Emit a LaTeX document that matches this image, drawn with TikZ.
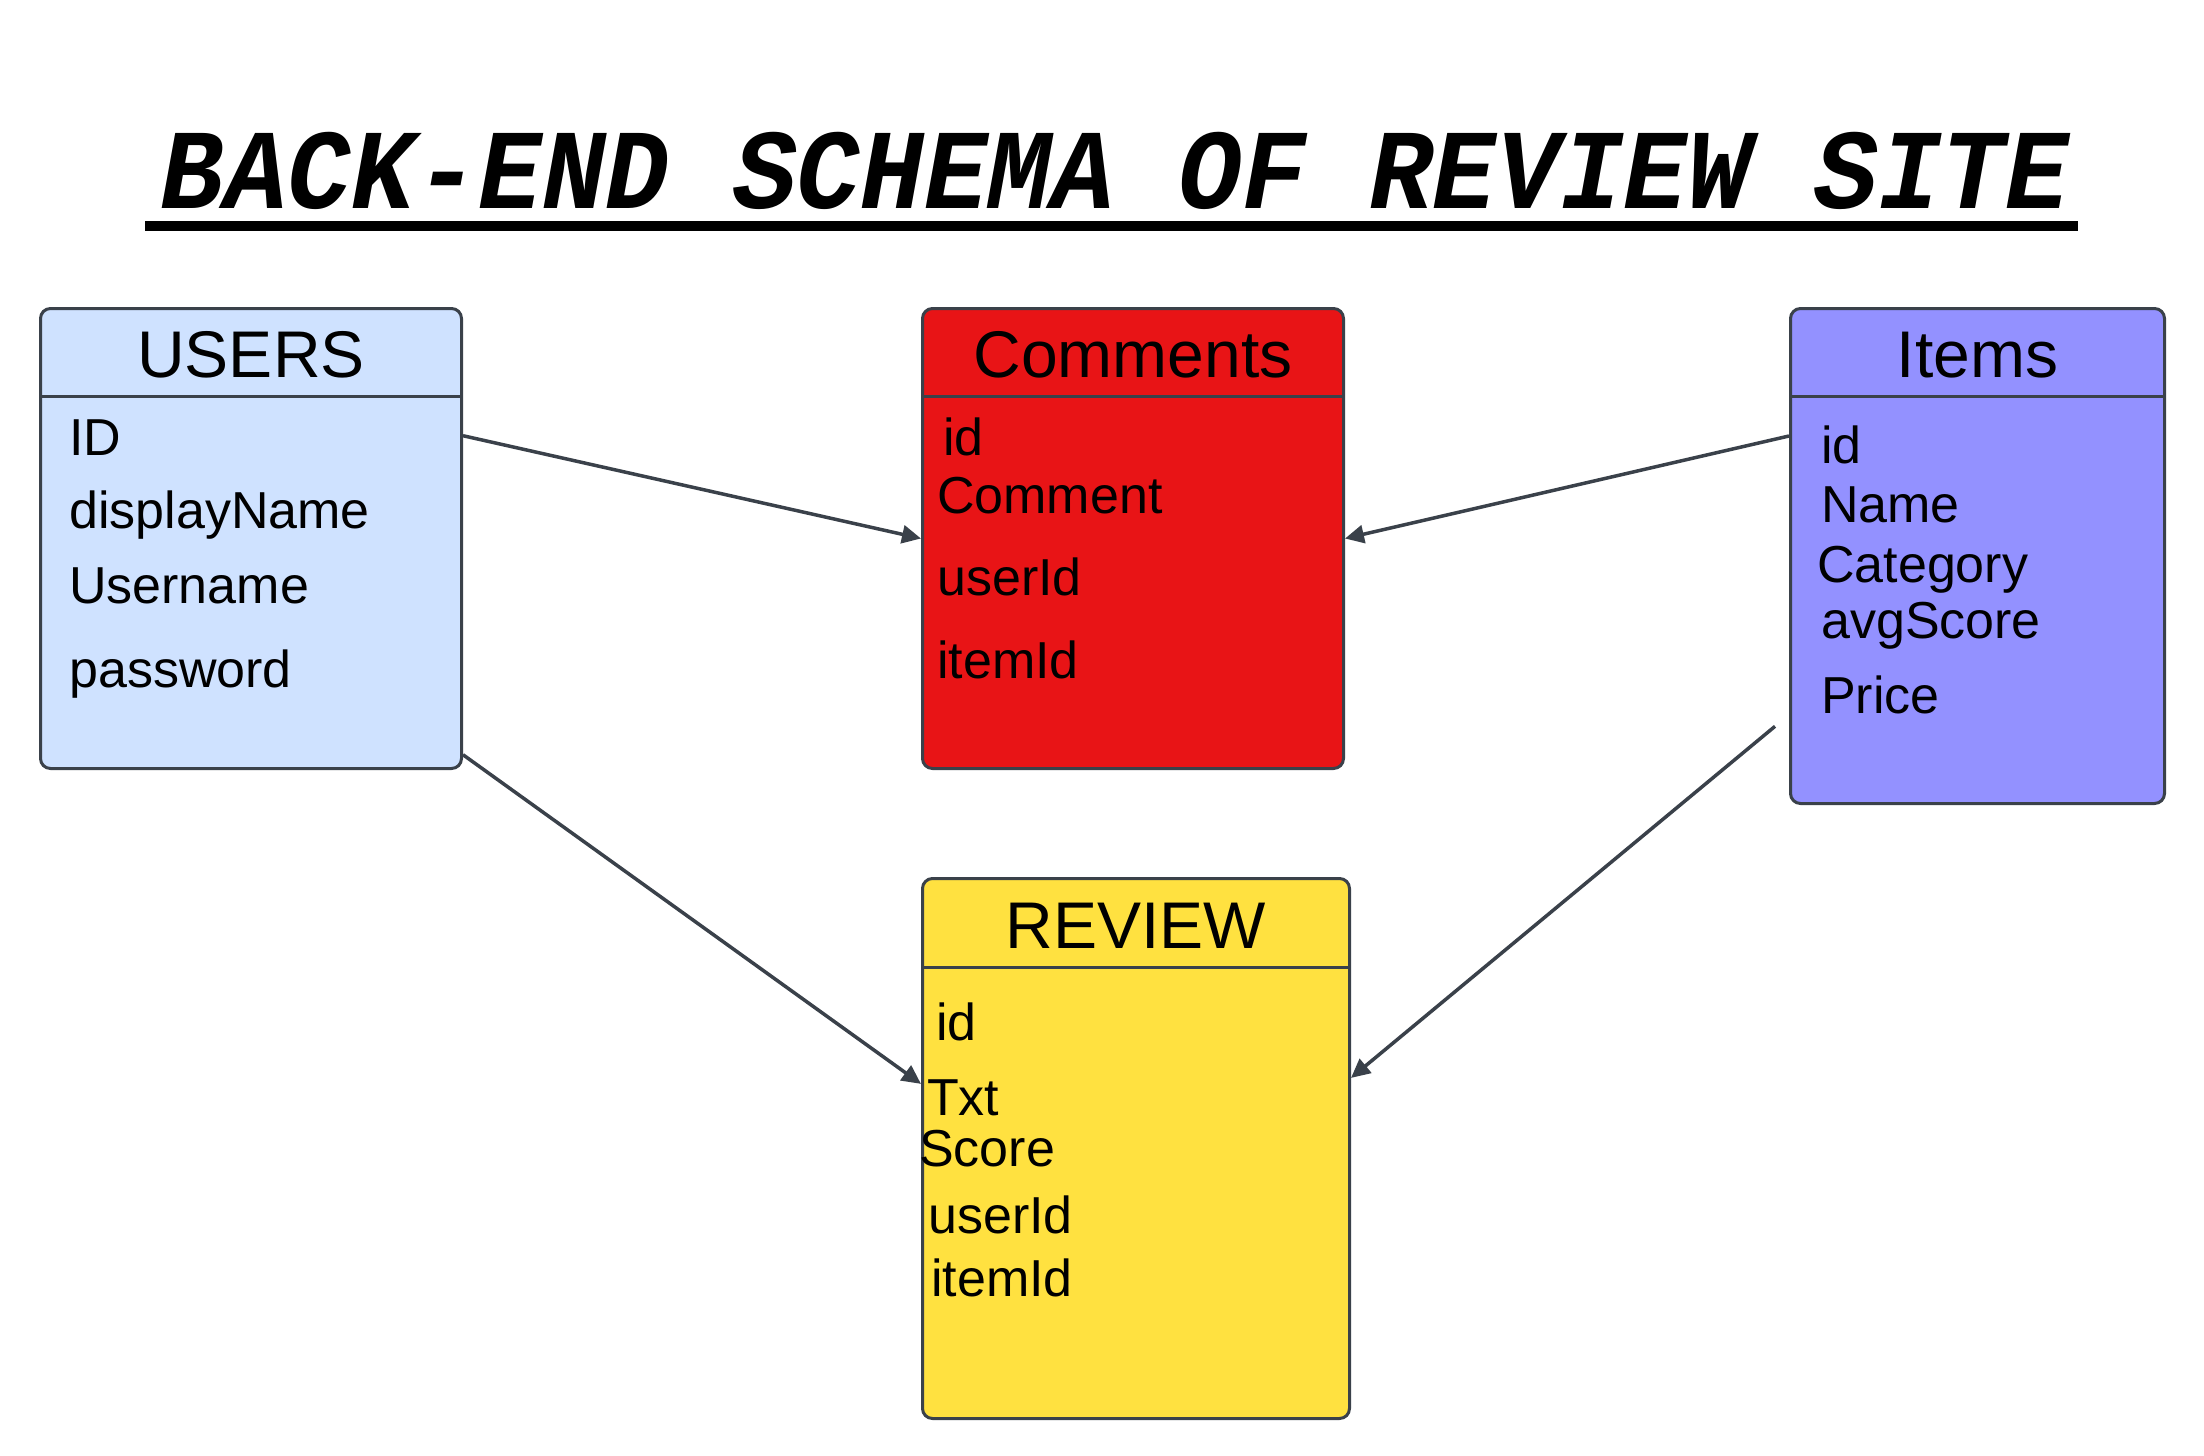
\documentclass[tikz,border=0pt]{standalone}
\usepackage{fontspec}
\setmainfont{Liberation Sans}
\newfontfamily\titlefont{Liberation Mono}[FakeStretch=0.93]
\usepackage{tikz}
\usetikzlibrary{arrows.meta, positioning, calc, shapes}
\definecolor{UsersBlue}{RGB}{207,226,255}
\definecolor{CommentRed}{RGB}{232,20,22}
\definecolor{ItemViolet}{RGB}{147,145,255}
\definecolor{ReviewYellow}{RGB}{255,225,64}
\definecolor{EdgeGray}{RGB}{58,65,74}
\tikzset{
  tbl/.style={draw=EdgeGray, line width=3pt, rounded corners=10pt, anchor=north west, inner sep=0pt},
  tblhead/.style={anchor=base, inner sep=0pt, font=\fontsize{66}{70}\selectfont},
  fld/.style={anchor=base west, inner sep=0pt, font=\fontsize{52}{60}\selectfont},
  sep/.style={draw=EdgeGray, line width=3pt},
  link/.style={draw=EdgeGray, line width=3.5pt, -{Triangle[length=19pt,width=18pt]}}
}

\begin{document}
\begin{tikzpicture}[x=1pt, y=-1pt]
\useasboundingbox (0,0) rectangle (2204,1456);
% title
\node[anchor=base, inner sep=0pt, font=\titlefont\bfseries\itshape\fontsize{114}{120}\selectfont] (title) at (1115,208) {BACK-END SCHEMA OF REVIEW SITE};
\draw[line width=10pt] ([xshift=-15pt,yshift=-18pt]title.base west) -- ([xshift=8pt,yshift=-18pt]title.base east);

% tables
\node[tbl, fill=UsersBlue, minimum width=421pt, minimum height=460pt] (users) at (39,307) {};
\node[tbl, fill=CommentRed, minimum width=421pt, minimum height=460pt] (comments) at (921,307) {};
\node[tbl, fill=ItemViolet, minimum width=374pt, minimum height=495pt] (items) at (1789,307) {};
\node[tbl, fill=ReviewYellow, minimum width=427pt, minimum height=540pt] (review) at (921,877) {};

% headers
\node[tblhead] (usersT) at ([yshift=-70pt]users.north) {USERS};
\node[tblhead] (commentsT) at ([yshift=-70pt]comments.north) {Comments};
\node[tblhead] (itemsT) at ([yshift=-70pt]items.north) {Items};
\node[tblhead] (reviewT) at ([yshift=-71pt]review.north) {REVIEW};
\draw[sep] ([yshift=-89pt]users.north west) -- ([yshift=-89pt]users.north east);
\draw[sep] ([yshift=-89pt]comments.north west) -- ([yshift=-89pt]comments.north east);
\draw[sep] ([yshift=-89pt]items.north west) -- ([yshift=-89pt]items.north east);
\draw[sep] ([yshift=-90pt]review.north west) -- ([yshift=-90pt]review.north east);

% fields
\node[fld] (uID) at (69,455) {ID};
\node[fld] (uDisp) at (69,528) {displayName};
\node[fld] (uName) at (69,603) {Username};
\node[fld] (uPass) at (69,687) {password};

\node[fld] (cId) at (943,455) {id};
\node[fld] (cText) at (937,513) {Comment};
\node[fld] (cUser) at (937,595) {userId};
\node[fld] (cItem) at (937,678) {itemId};

\node[fld] (iId) at (1821,463) {id};
\node[fld] (iName) at (1821,522) {Name};
\node[fld] (iCat) at (1817,582) {Category};
\node[fld] (iAvg) at (1821,638) {avgScore};
\node[fld] (iPrice) at (1821,713) {Price};

\node[fld] (rId) at (936,1040) {id};
\node[fld] (rTxt) at (927,1115) {Txt};
\node[fld] (rScore) at (919,1166) {Score};
\node[fld] (rUser) at (928,1233) {userId};
\node[fld] (rItem) at (931,1296) {itemId};

% links
\draw[link] ($(users.north east)!0.278!(users.south east)$) -- (comments.west);
\draw[link] ($(items.north west)!0.259!(items.south west)$) -- (comments.east);
\draw[link] ($(users.north east)!0.967!(users.south east)$) -- ($(review.north west)!0.381!(review.south west)$);
\draw[link] ([xshift=-14pt]$(items.north west)!0.842!(items.south west)$) -- ($(review.north east)!0.37!(review.south east)$);
\end{tikzpicture}
\end{document}
